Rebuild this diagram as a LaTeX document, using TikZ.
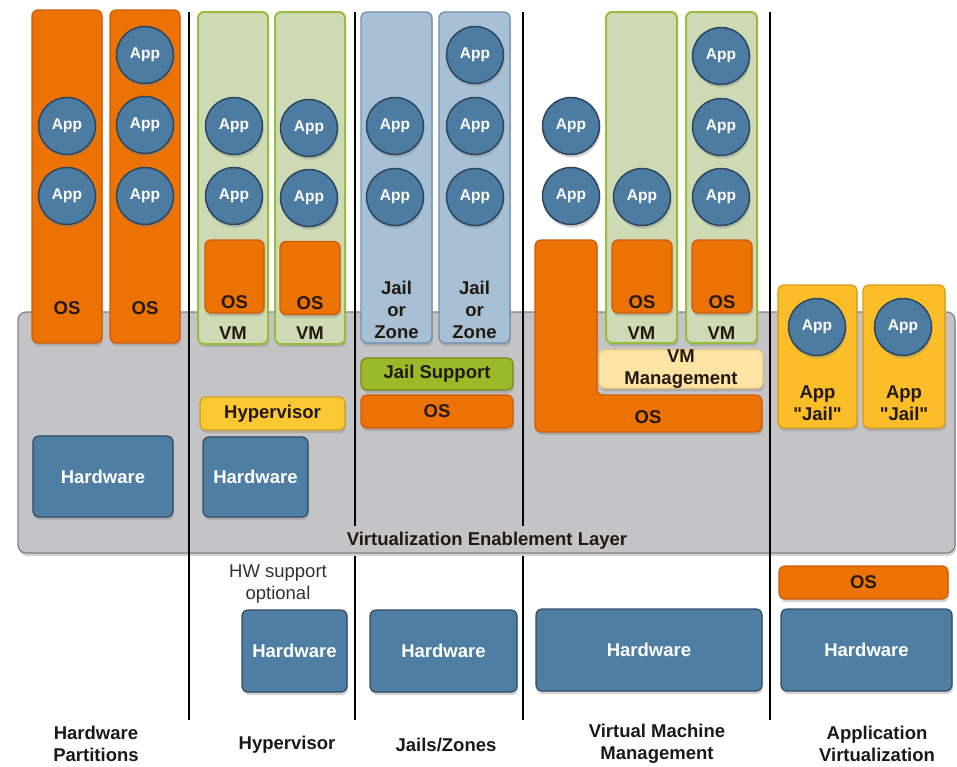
\documentclass[tikz,border=0pt]{standalone}
\usepackage{fontspec}
\setmainfont{Liberation Sans}
\usetikzlibrary{shadows}
\newcommand{\lblfont}{\bfseries\fontsize{18.5}{22}\selectfont}
\newcommand{\appfont}{\bfseries\fontsize{15.5}{18}\selectfont}
\newcommand{\mylw}{1.2pt}
\tikzset{
    shsty/.style={drop shadow={shadow xshift=1pt,shadow yshift=-3pt,opacity=0.35}},
    boxsty/.style={draw,rounded corners=6pt,line width=\mylw,inner sep=0pt,anchor=center,shsty},
    ossty/.style={boxsty,fill=osorange,draw=osedge},
    osbarsty/.style={ossty,font=\lblfont,text=darktext},
    vmsty/.style={boxsty,fill=vmgreen,draw=vmedge,line width=2pt},
    jailsty/.style={boxsty,fill=jailblue,draw=jailedge},
    hwsty/.style={boxsty,fill=hwblue,draw=hwedge,text=white,font=\lblfont},
    hypsty/.style={boxsty,fill=hypyellow,draw=hypedge,text=darktext,font=\lblfont},
    jsupsty/.style={boxsty,fill=jsgreen,draw=jsedge,text=darktext,font=\lblfont},
    vmmsty/.style={boxsty,fill=vmmbeige,draw=vmmedge,text=darktext,font=\lblfont,align=center},
    ajsty/.style={boxsty,fill=ajgold,draw=ajedge},
    laysty/.style={boxsty,fill=laygray,draw=layedge,rounded corners=8pt},
    appsty/.style={circle,draw=appedge,fill=appblue,line width=1.5pt,minimum size=57pt,inner sep=0pt,text=white,font=\appfont,shsty},
    txtsty/.style={font=\lblfont,text=darktext,align=center,inner sep=0pt},
    capsty/.style={font=\lblfont,text=captext,align=center,inner sep=0pt},
    notesty/.style={font=\fontsize{18.5}{22}\selectfont,text=notetext,align=center,inner sep=0pt},
    divsty/.style={line width=2pt,black},
}
\definecolor{osorange}{RGB}{236,114,4}
\definecolor{osedge}{RGB}{205,92,10}
\definecolor{vmgreen}{RGB}{205,218,180}
\definecolor{vmedge}{RGB}{150,190,60}
\definecolor{jailblue}{RGB}{168,192,214}
\definecolor{jailedge}{RGB}{110,140,170}
\definecolor{hwblue}{RGB}{79,126,165}
\definecolor{hwedge}{RGB}{48,74,98}
\definecolor{hypyellow}{RGB}{250,200,50}
\definecolor{hypedge}{RGB}{210,160,30}
\definecolor{jsgreen}{RGB}{155,186,40}
\definecolor{jsedge}{RGB}{110,140,30}
\definecolor{vmmbeige}{RGB}{253,228,165}
\definecolor{vmmedge}{RGB}{230,200,130}
\definecolor{ajgold}{RGB}{251,190,40}
\definecolor{ajedge}{RGB}{215,155,20}
\definecolor{laygray}{RGB}{196,196,198}
\definecolor{layedge}{RGB}{130,130,132}
\definecolor{appblue}{RGB}{77,124,163}
\definecolor{appedge}{RGB}{45,70,95}
\definecolor{darktext}{RGB}{35,25,15}
\definecolor{captext}{RGB}{25,25,25}
\definecolor{notetext}{RGB}{50,50,50}

\begin{document}
\begin{tikzpicture}[x=1pt,y=-1pt]
  \useasboundingbox (0,0) rectangle (957,766);

  % enablement layer
  \node[laysty,minimum width=937,minimum height=241] (layer) at (486.5,432.5) {};
  \node[txtsty,minimum height=30] (vel) at (487,541) {Virtualization Enablement Layer};

  % dividers
  \coordinate (divA) at (189,12);
  \coordinate (divB) at (355,12);
  \coordinate (divC) at (523,12);
  \coordinate (divD) at (770,12);
  \draw[divsty] (divA) -- ([yshift=-708pt]divA);
  \draw[divsty] (divB) -- (divB |- vel.north);
  \draw[divsty] (divB |- vel.south) -- ([yshift=-708pt]divB);
  \draw[divsty] (divC) -- (divC |- vel.north);
  \draw[divsty] (divC |- vel.south) -- ([yshift=-708pt]divC);
  \draw[divsty] (divD) -- ([yshift=-708pt]divD);

  % hardware partitions
  \node[ossty,minimum width=70,minimum height=333] (hpA) at (67,176.5) {};
  \node[ossty,minimum width=70,minimum height=333] (hpB) at (145,176.5) {};
  \node[txtsty] (hpAos) at (67,308) {OS};
  \node[txtsty] (hpBos) at (145,308) {OS};
  \node[hwsty,minimum width=140,minimum height=81] (hwA) at (103,476.5) {Hardware};

  % hypervisor
  \node[vmsty,minimum width=70,minimum height=332] (vmA) at (233,178) {};
  \node[vmsty,minimum width=70,minimum height=332] (vmB) at (310,178) {};
  \node[ossty,minimum width=59,minimum height=73] (vmAos) at (234.5,276.5) {};
  \node[ossty,minimum width=60,minimum height=73] (vmBos) at (310,278) {};
  \node[txtsty] (vmAostxt) at (234.5,302) {OS};
  \node[txtsty] (vmBostxt) at (310,303) {OS};
  \node[txtsty] (vmAtxt) at (233,333) {VM};
  \node[txtsty] (vmBtxt) at (310,333) {VM};
  \node[hypsty,minimum width=145,minimum height=33] (hyp) at (272.5,413.5) {Hypervisor};
  \node[hwsty,minimum width=105,minimum height=80] (hwB) at (255.5,477) {Hardware};
  \node[notesty] (hwnote) at (278,584) {HW support\\optional};
  \node[hwsty,minimum width=105,minimum height=82] (hwBB) at (294.5,651) {Hardware};

  % jails / zones
  \node[jailsty,minimum width=71,minimum height=331] (jlA) at (396.5,177.5) {};
  \node[jailsty,minimum width=71,minimum height=331] (jlB) at (474.5,177.5) {};
  \node[txtsty] (jlAtxt) at (396.5,310) {Jail\\or\\Zone};
  \node[txtsty] (jlBtxt) at (474.5,310) {Jail\\or\\Zone};
  \node[jsupsty,minimum width=152,minimum height=32] (jsup) at (437,374) {Jail Support};
  \node[osbarsty,minimum width=152,minimum height=33] (jlos) at (437,411.5) {OS};
  \node[hwsty,minimum width=147,minimum height=82] (hwC) at (443.5,651) {Hardware};

  % virtual machine management
  \draw[ossty] (535,240) -- (597,240) -- (597,395) -- (762,395) -- (762,432) -- (535,432) -- cycle;
  \node[txtsty] (vmmos) at (648,417) {OS};
  \node[vmmsty,minimum width=164,minimum height=38] (vmm) at (681,369) {VM\\Management};
  \node[vmsty,minimum width=71,minimum height=331] (vmC) at (641.5,177.5) {};
  \node[vmsty,minimum width=71,minimum height=331] (vmD) at (721.5,177.5) {};
  \node[ossty,minimum width=60,minimum height=73] (vmCos) at (642,276.5) {};
  \node[ossty,minimum width=60,minimum height=73] (vmDos) at (722,276.5) {};
  \node[txtsty] (vmCostxt) at (642,302) {OS};
  \node[txtsty] (vmDostxt) at (722,302) {OS};
  \node[txtsty] (vmCtxt) at (641.5,333) {VM};
  \node[txtsty] (vmDtxt) at (721.5,333) {VM};
  \node[hwsty,minimum width=226,minimum height=82] (hwD) at (649,650) {Hardware};

  % application virtualization
  \node[ajsty,minimum width=79,minimum height=143] (ajA) at (817.5,356.5) {};
  \node[ajsty,minimum width=82,minimum height=143] (ajB) at (904,356.5) {};
  \node[txtsty] (ajAtxt) at (817.5,403) {App\\\textquotedbl Jail\textquotedbl};
  \node[txtsty] (ajBtxt) at (904,403) {App\\\textquotedbl Jail\textquotedbl};
  \node[osbarsty,minimum width=169,minimum height=33] (avos) at (863.5,582.5) {OS};
  \node[hwsty,minimum width=171,minimum height=82] (hwE) at (866.5,650) {Hardware};

  % apps
  \foreach \ax/\ay [count=\i] in {67/126,67/196,145/55,145/125,145/196,
      234/126,234/196,309/128,309/198,395/126,395/197,475/55,475/126,475/197,
      571/126,571/196,642/197,721/56,721/127,721/197,817/327,903/327}
    \node[appsty] (app\i) at (\ax,\ay) {App};

  % captions
  \node[capsty] (capHP) at (96,744) {Hardware\\Partitions};
  \node[capsty] (capHY) at (287,745) {Hypervisor};
  \node[capsty] (capJZ) at (446,745) {Jails/Zones};
  \node[capsty] (capVM) at (657,744) {Virtual Machine\\Management};
  \node[capsty] (capAV) at (877,744) {Application\\Virtualization};
\end{tikzpicture}
\end{document}
